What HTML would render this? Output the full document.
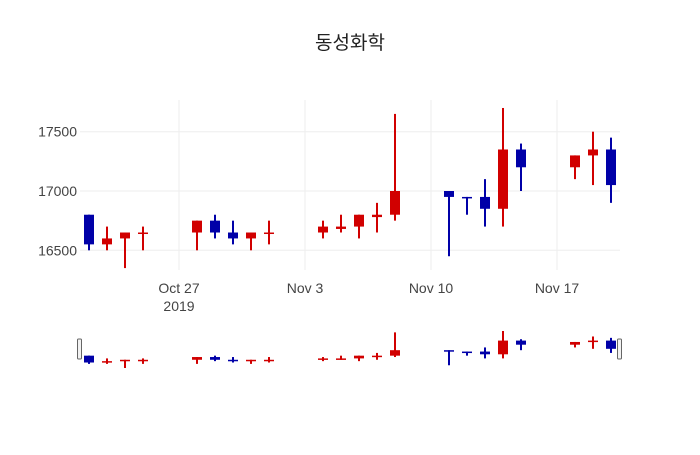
<!DOCTYPE html>
<html><head><meta charset="utf-8"><style>
body{margin:0;background:#fff;}
svg text{font-family:"Liberation Sans","Noto Sans CJK KR",sans-serif;fill:#444;}
</style></head><body>
<svg id="chart" width="700" height="450">
<rect width="700" height="450" fill="#fff"/>
<text x="350" y="49" text-anchor="middle" font-size="19" style="fill:#222">동성화학</text>
<g id="grid"></g><g id="main"></g><g id="axes"></g><g id="slider"></g>
</svg>
<script>
const dates=["2019-10-22","2019-10-23","2019-10-24","2019-10-25","2019-10-28","2019-10-29","2019-10-30","2019-10-31","2019-11-01","2019-11-04","2019-11-05","2019-11-06","2019-11-07","2019-11-08","2019-11-11","2019-11-12","2019-11-13","2019-11-14","2019-11-15","2019-11-18","2019-11-19","2019-11-20"];
const opens=[16800,16550,16600,16640,16650,16750,16650,16600,16640,16650,16680,16700,16780,16800,17000,16950,16950,16850,17350,17200,17300,17350];
const highs=[16800,16700,16650,16700,16750,16800,16750,16650,16750,16750,16800,16800,16900,17650,17000,16950,17100,17700,17400,17300,17500,17450];
const lows=[16500,16500,16350,16500,16500,16600,16550,16500,16550,16600,16650,16600,16650,16750,16450,16800,16700,16700,17000,17100,17050,16900];
const closes=[16550,16600,16650,16650,16750,16650,16600,16650,16650,16700,16700,16800,16800,17000,16950,16940,16850,17350,17200,17300,17350,17050];
const yTicks=[16500,17000,17500];
const xTicks=["2019-10-27","2019-11-03","2019-11-10","2019-11-17"];
const xTickLabels=["Oct 27","Nov 3","Nov 10","Nov 17"];

const NS="http://www.w3.org/2000/svg";
const day=86400000, t0=Date.parse("2019-10-27");
const xS=d=>179+(Date.parse(d)-t0)/day*18;
const yS=v=>191-(v-17000)*59.3/500;
const ySl=v=>368-(v-16350)*37/1350;
function mk(p,tag,a){const e=document.createElementNS(NS,tag);for(const k in a)e.setAttribute(k,a[k]);p.appendChild(e);return e;}
const grid=document.getElementById('grid'),main=document.getElementById('main'),axes=document.getElementById('axes'),sl=document.getElementById('slider');
yTicks.forEach(v=>{
 const l=mk(grid,'line',{x1:80,x2:620,y1:yS(v),y2:yS(v),stroke:'#eee','stroke-width':1});
 
 
 const t=mk(axes,'text',{x:77,y:yS(v)+5,'text-anchor':'end','font-size':14});
 t.textContent=v;
 
 
});
xTicks.forEach((d,i)=>{
 const l=mk(grid,'line',{x1:xS(d),x2:xS(d),y1:100,y2:270,stroke:'#eee','stroke-width':1});
 
 
 const t=mk(axes,'text',{x:xS(d),y:293,'text-anchor':'middle','font-size':14});
 t.textContent=xTickLabels[i];
 
 
});
const yr=mk(axes,'text',{x:xS(xTicks[0]),y:311,'text-anchor':'middle','font-size':14});
yr.textContent="2019";



function candles(g,ys,bw,name){
 dates.forEach((d,i)=>{
  const up=closes[i]>=opens[i], c=up?'#d10000':'#0000a8', x=xS(d);
  const grp=mk(g,'g',{});
  
  
  mk(grp,'line',{x1:x,x2:x,y1:ys(highs[i]),y2:ys(lows[i]),stroke:c,'stroke-width':2});
  const top=ys(Math.max(opens[i],closes[i])),bot=ys(Math.min(opens[i],closes[i]));
  mk(grp,'rect',{x:x-bw/2,y:top,width:bw,height:Math.max(bot-top,1.5),fill:c});
 });
}
candles(main,yS,10,'candle');
candles(sl,ySl,10,'slider-candle');
[[80,'range-handle-left'],[620,'range-handle-right']].forEach(([x,n])=>{
 const h=mk(sl,'rect',{x:x-2.5,y:339,width:4,height:20,rx:1,fill:'#f2f2f2',stroke:'#666','stroke-width':1});
 
 
});
</script>
</body></html>
